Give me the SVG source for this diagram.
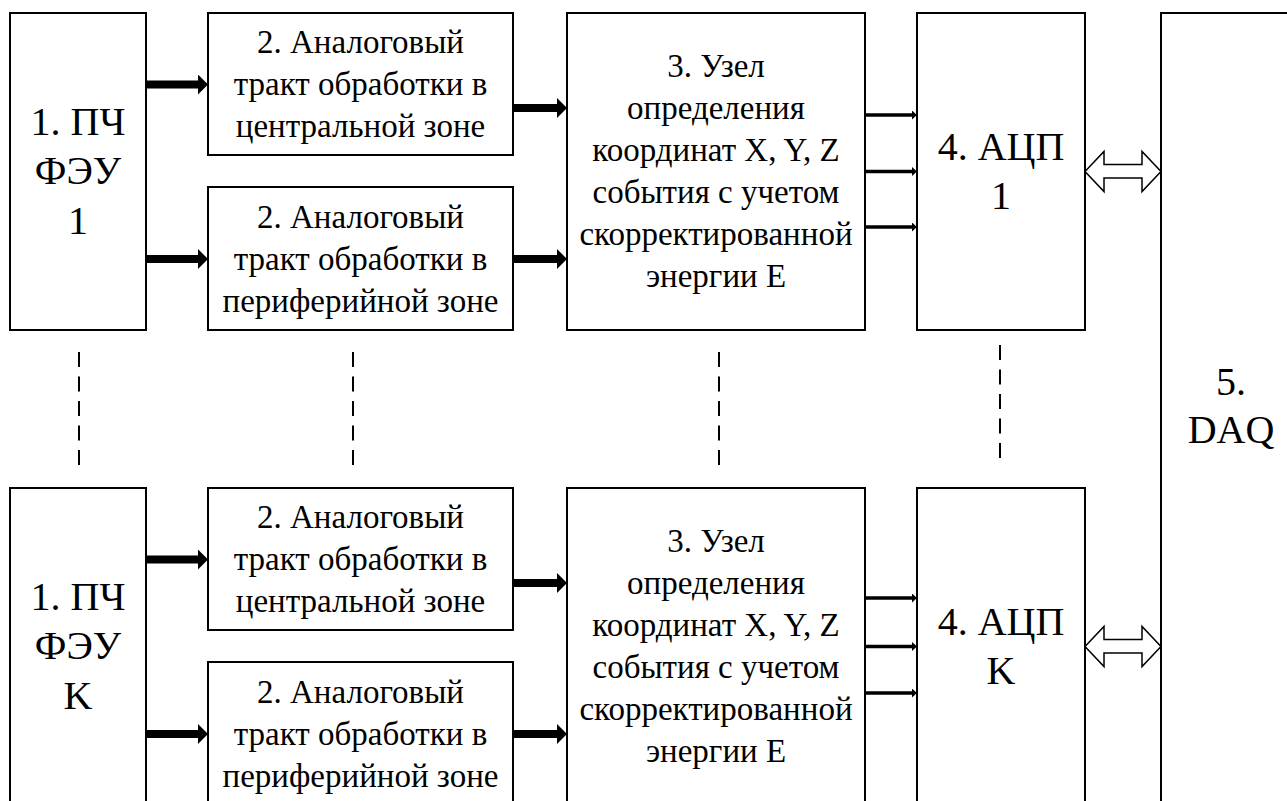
<svg xmlns="http://www.w3.org/2000/svg" width="1287" height="801" viewBox="0 0 1287 801" font-family="'Liberation Serif', 'Times New Roman', serif">
<style>
.box{fill:#fff;stroke:#000;stroke-width:2}
.t{font-family:'Liberation Serif','Times New Roman',serif;fill:#000;text-anchor:middle}
.m{font-size:33px}
.l{font-size:40px}
.thick{stroke:#000;stroke-width:8;fill:none}
.thin{stroke:#000;stroke-width:3.5;fill:none}
.dbl{fill:#fff;stroke:#000;stroke-width:1.5}
.dash{stroke:#000;stroke-width:2;stroke-dasharray:15 9.5;fill:none}
</style>
<defs>
<marker id="ah" markerUnits="userSpaceOnUse" markerWidth="10" markerHeight="20" refX="0" refY="10" orient="auto"><path d="M0,0 L10,10 L0,20 Z" fill="#000"/></marker>
<marker id="as" markerUnits="userSpaceOnUse" markerWidth="5" markerHeight="9" refX="0" refY="4.5" orient="auto"><path d="M0,0 L5,4.5 L0,9 Z" fill="#000"/></marker>
<path id="dblA" d="M0,0 L19,-20 L19,-7 L57,-7 L57,-20 L76,0 L57,20 L57,6.5 L19,6.5 L19,20 Z"/>
</defs>
<rect width="1287" height="801" fill="#fff"/>

<g id="n1-1"><rect class="box" x="10" y="13" width="136" height="317"/>
<text class="t l" x="78" y="135">1. ПЧ</text><text class="t l" x="78" y="184">ФЭУ</text><text class="t l" x="78" y="234">1</text></g>
<g id="n2a-1"><rect class="box" x="208" y="13" width="305" height="142"/>
<text class="t m" x="360.5" y="53">2. Аналоговый</text><text class="t m" x="360.5" y="95">тракт обработки в</text><text class="t m" x="360.5" y="137">центральной зоне</text></g>
<g id="n2b-1"><rect class="box" x="208" y="187" width="305" height="143"/>
<text class="t m" x="360.5" y="228">2. Аналоговый</text><text class="t m" x="360.5" y="270">тракт обработки в</text><text class="t m" x="360.5" y="312">периферийной зоне</text></g>
<g id="n3-1"><rect class="box" x="567" y="13" width="298" height="317"/>
<text class="t m" x="716" y="77">3. Узел</text><text class="t m" x="716" y="119">определения</text><text class="t m" x="716" y="161">координат X, Y, Z</text><text class="t m" x="716" y="203">события с учетом</text><text class="t m" x="716" y="245">скорректированной</text><text class="t m" x="716" y="287">энергии E</text></g>
<g id="n4-1"><rect class="box" x="917" y="13" width="168" height="317"/>
<text class="t l" x="1001" y="160">4. АЦП</text><text class="t l" x="1001" y="209">1</text></g>

<g id="n5"><rect class="box" x="1161" y="13" width="200" height="900"/>
<text class="t l" x="1231" y="395">5.</text><text class="t l" x="1231" y="443">DAQ</text></g>

<g id="n1-K"><rect class="box" x="10" y="488" width="136" height="330"/>
<text class="t l" x="78" y="610">1. ПЧ</text><text class="t l" x="78" y="659">ФЭУ</text><text class="t l" x="78" y="709">K</text></g>
<g id="n2a-K"><rect class="box" x="208" y="488" width="305" height="142"/>
<text class="t m" x="360.5" y="528">2. Аналоговый</text><text class="t m" x="360.5" y="570">тракт обработки в</text><text class="t m" x="360.5" y="612">центральной зоне</text></g>
<g id="n2b-K"><rect class="box" x="208" y="662" width="305" height="160"/>
<text class="t m" x="360.5" y="703">2. Аналоговый</text><text class="t m" x="360.5" y="745">тракт обработки в</text><text class="t m" x="360.5" y="787">периферийной зоне</text></g>
<g id="n3-K"><rect class="box" x="567" y="488" width="298" height="330"/>
<text class="t m" x="716" y="552">3. Узел</text><text class="t m" x="716" y="594">определения</text><text class="t m" x="716" y="636">координат X, Y, Z</text><text class="t m" x="716" y="678">события с учетом</text><text class="t m" x="716" y="720">скорректированной</text><text class="t m" x="716" y="762">энергии E</text></g>
<g id="n4-K"><rect class="box" x="917" y="488" width="168" height="330"/>
<text class="t l" x="1001" y="635">4. АЦП</text><text class="t l" x="1001" y="684">K</text></g>

<g id="connectors">
<line class="thick" x1="146" y1="84.5" x2="198" y2="84.5" marker-end="url(#ah)"/>
<line class="thick" x1="146" y1="259" x2="198" y2="259" marker-end="url(#ah)"/>
<line class="thick" x1="513" y1="108" x2="557" y2="108" marker-end="url(#ah)"/>
<line class="thick" x1="513" y1="259" x2="557" y2="259" marker-end="url(#ah)"/>
<line class="thin" x1="865" y1="115" x2="912" y2="115" marker-end="url(#as)"/>
<line class="thin" x1="865" y1="171.5" x2="912" y2="171.5" marker-end="url(#as)"/>
<line class="thin" x1="865" y1="227" x2="912" y2="227" marker-end="url(#as)"/>
<use href="#dblA" class="dbl" x="1085" y="171.5"/>
<line class="thick" x1="146" y1="559.5" x2="198" y2="559.5" marker-end="url(#ah)"/>
<line class="thick" x1="146" y1="734" x2="198" y2="734" marker-end="url(#ah)"/>
<line class="thick" x1="513" y1="583" x2="557" y2="583" marker-end="url(#ah)"/>
<line class="thick" x1="513" y1="734" x2="557" y2="734" marker-end="url(#ah)"/>
<line class="thin" x1="865" y1="598" x2="912" y2="598" marker-end="url(#as)"/>
<line class="thin" x1="865" y1="646.5" x2="912" y2="646.5" marker-end="url(#as)"/>
<line class="thin" x1="865" y1="693" x2="912" y2="693" marker-end="url(#as)"/>
<use href="#dblA" class="dbl" x="1085" y="646.5"/>
</g>

<g id="continuation">
<line class="dash" x1="79" y1="352" x2="79" y2="466"/>
<line class="dash" x1="353" y1="352" x2="353" y2="466"/>
<line class="dash" x1="719" y1="352" x2="719" y2="466"/>
<line class="dash" x1="1000" y1="345" x2="1000" y2="459"/>
</g>
</svg>
